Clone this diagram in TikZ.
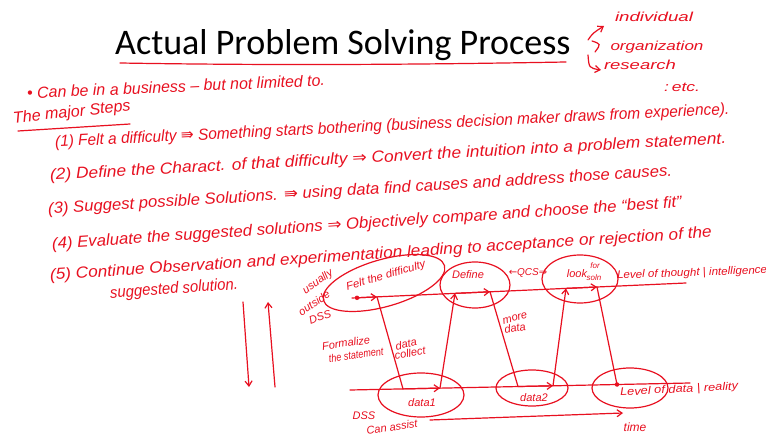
\documentclass[tikz,border=0pt]{standalone}
\usepackage{fontspec}
\usepackage{graphicx}
\setmainfont{Carlito}
\newfontfamily\hand{Liberation Sans}
\newfontfamily\sym{DejaVu Sans}
\usetikzlibrary{shapes.geometric,arrows.meta}
\definecolor{ink}{RGB}{232,16,32}
\newcommand{\fitw}[2]{\resizebox{#1}{\height}{#2}}
\begin{document}
\begin{tikzpicture}[x=1pt,y=-1pt,
  hw/.style={text=ink,font=\hand\itshape\fontsize{16}{18}\selectfont,inner sep=0pt},
  sm/.style={text=ink,font=\hand\itshape\fontsize{11}{12}\selectfont,inner sep=0pt},
  pen/.style={draw=ink,line width=1.2pt,line cap=round},
  oval/.style={ellipse,draw=ink,line width=1.2pt,inner sep=0pt},
  arr/.style={pen,-{Straight Barb[length=5pt,width=7pt]}},
  dotn/.style={circle,fill=ink,inner sep=0pt,minimum size=4.5pt}]
\useasboundingbox (0,0) rectangle (766,438);
\fill[white] (0,0) rectangle (766,438);

% title
\node[font=\fontsize{36}{40}\selectfont,anchor=base west,inner sep=0pt] (title) at (115,55) {Actual Problem Solving Process};
\draw[pen] (120,63) .. controls (300,66) and (450,64) .. (566,62);

% top right notes
\node[sm,font=\hand\itshape\fontsize{13}{14}\selectfont] (ind) at (654,17) {\fitw{78pt}{individual}};
\node[sm,font=\hand\itshape\fontsize{13}{14}\selectfont] (org) at (657,47) {\fitw{93pt}{organization}};
\node[sm,font=\hand\itshape\fontsize{13}{14}\selectfont] (res) at (640,65) {\fitw{72pt}{research}};
\node[sm,font=\hand\itshape\fontsize{13}{14}\selectfont] (etc) at (682,87) {\fitw{36pt}{:\,etc.}};
\draw[arr] (588,40) .. controls (593,33) .. (604,26);
\draw[pen] (592,41) .. controls (601,44) .. (595,52);
\draw[arr] (588,55) .. controls (589,68) .. (601,70);

% text lines
\node[hw,anchor=west,rotate=2.5] (bul) at (27,93) {\fitw{298pt}{\textbullet\ Can be in a business – but not limited to.}};
\node[hw,anchor=west,rotate=6] (maj) at (13,119) {\fitw{118pt}{The major Steps}};
\draw[pen] (18,131) -- (130,124);
\node[hw,anchor=west,rotate=2.8] (s1) at (55,143) {\fitw{675pt}{(1) Felt a difficulty {\sym ⇛} Something starts bothering (business decision maker draws from experience).}};
\node[hw,anchor=west,rotate=3.1] (s2) at (50,176) {\fitw{677pt}{(2) Define the Charact. of that difficulty {\sym ⇒} Convert the intuition into a problem statement.}};
\node[hw,anchor=west,rotate=3.5] (s3) at (48,210) {\fitw{625pt}{(3) Suggest possible Solutions. {\sym ⇛} using data find causes and address those causes.}};
\node[hw,anchor=west,rotate=3.8] (s4) at (52,245) {\fitw{631pt}{(4) Evaluate the suggested solutions {\sym ⇒} Objectively compare and choose the “best fit”}};
\node[hw,anchor=west,rotate=3.7] (s5) at (50,276) {\fitw{663pt}{(5) Continue Observation and experimentation leading to acceptance or rejection of the}};
\node[hw,anchor=west,rotate=4] (s5b) at (110,294) {\fitw{128pt}{suggested solution.}};

% left vertical arrows
\coordinate (va1) at (243,302); \coordinate (va2) at (249,387);
\coordinate (vb1) at (275,387); \coordinate (vb2) at (268,302);
\draw[arr] (va1) -- (va2);
\draw[arr] (vb1) -- (vb2);

% level lines
\coordinate (uL) at (352,298); \coordinate (uR) at (686,283);
\coordinate (lL) at (350,390); \coordinate (lR) at (690,383);
\draw[pen] (uL) -- (uR);
\draw[pen] (lL) -- (lR);

% ellipses
\node[oval,minimum width=126pt,minimum height=47pt,rotate=16] (e1) at (384,283) {};
\node[oval,minimum width=70pt,minimum height=46pt] (e2) at (475,285) {};
\node[oval,minimum width=76pt,minimum height=48pt] (e3) at (580,279) {};
\node[oval,minimum width=86pt,minimum height=44pt] (e4) at (421,395) {};
\node[oval,minimum width=72pt,minimum height=36pt] (e5) at (532,388) {};
\node[oval,minimum width=76pt,minimum height=40pt] (e6) at (630,388) {};

% labels in ellipses
\node[sm,rotate=16] (tfelt) at (386,276) {\fitw{82pt}{Felt the difficulty}};
\node[sm] (tdef) at (468,275) {Define};
\node[sm] (tlook) at (577,274) {look};
\node[sm,font=\hand\itshape\fontsize{8}{9}\selectfont] (tfor) at (595,266) {for};
\node[sm,font=\hand\itshape\fontsize{8}{9}\selectfont] (tsoln) at (594,278) {soln};
\node[sm] (td1) at (422,403) {data1};
\node[sm] (td2) at (534,398) {data2};
\node[sm,anchor=west,rotate=3] (tlev) at (620,393) {\fitw{118pt}{Level of data | reality}};
\node[sm,anchor=west,rotate=2] (tthought) at (617,276) {\fitw{150pt}{Level of thought | intelligence}};
\node[sm,font=\hand\itshape\fontsize{10}{11}\selectfont] (qcs) at (528,273) {{\sym ←}QCS{\sym ⇒}};

% side annotations
\node[sm,rotate=35] (usu) at (318,282) {usually};
\node[sm,rotate=35] (outs) at (314,303) {outside};
\node[sm,rotate=20] (dss1) at (320,317) {DSS};
\node[sm,rotate=8] (form) at (346,343) {Formalize};
\node[sm,rotate=8] (stmt) at (356,355) {\fitw{55pt}{the statement}};
\node[sm,rotate=12] (dc1) at (406,344) {data};
\node[sm,rotate=10] (dc2) at (410,353) {collect};
\node[sm,rotate=15] (md1) at (515,318) {more};
\node[sm,rotate=10] (md2) at (515,328) {data};
\node[sm] (dss2) at (364,416) {DSS};
\node[sm,rotate=8] (assist) at (392,427) {Can assist};
\node[sm,font=\hand\itshape\fontsize{12}{13}\selectfont] (time) at (635,427) {time};
\coordinate (ts) at (430,420); \coordinate (te) at (623,413);
\draw[arr] (ts) -- (te);

% zigzag path
\node[dotn] (d0) at (357,297.8) {};
\coordinate (t1) at (377,296.9);
\coordinate (b1) at (403,388.9);
\coordinate (b2) at (440,388.1);
\coordinate (t2) at (455,293.4);
\coordinate (t3) at (490,291.8);
\coordinate (b3) at (518,386.5);
\coordinate (b4) at (553,385.8);
\coordinate (t4) at (566,288.4);
\coordinate (t5) at (597,287);
\node[dotn] (b5) at (617,384.5) {};
\draw[arr] (d0.center) -- (t1);
\draw[pen] (t1) -- (b1);
\draw[arr] (b1) -- (b2);
\draw[arr] (b2) -- (t2);
\draw[arr] (t2) -- (t3);
\draw[pen] (t3) -- (b3);
\draw[arr] (b3) -- (b4);
\draw[arr] (b4) -- (t4);
\draw[arr] (t4) -- (t5);
\draw[pen] (t5) -- (b5.center);
\end{tikzpicture}
\end{document}
